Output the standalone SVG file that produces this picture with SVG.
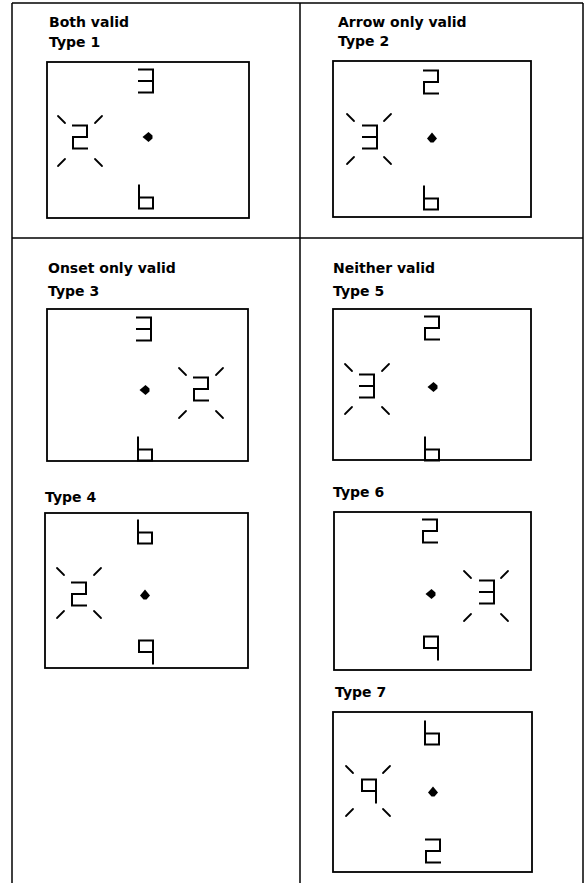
<svg xmlns="http://www.w3.org/2000/svg" xmlns:xlink="http://www.w3.org/1999/xlink" width="585" height="883" viewBox="0 0 585 883">
<style>
.frame{fill:none;stroke:#000;stroke-width:1.5}
.box{fill:none;stroke:#000;stroke-width:1.8}
.dg{fill:none;stroke:#000;stroke-width:2;stroke-linejoin:miter;stroke-linecap:square}
.bl{fill:none;stroke:#000;stroke-width:1.8;stroke-linecap:round}
.lbl{font-family:"DejaVu Sans",sans-serif;font-weight:bold;font-size:14px;fill:#000}
.fx{fill:#000}
</style>
<defs>
<path id="d2" class="dg" d="M-7,-11.5 H7 V0 H-7 V11.5 H7"/>
<path id="d3" class="dg" d="M-7,-11.5 H7 V11.5 H-7 M-7,0 H7"/>
<path id="d6" class="dg" d="M-7,-11.5 V11.5 H7 V0.5 H-7"/>
<path id="d9" class="dg" d="M7,11.5 V-11.5 H-7 V0 H7"/>
<g id="burst">
<line class="bl" x1="-22" y1="-25" x2="-15" y2="-18"/>
<line class="bl" x1="22" y1="-25" x2="15" y2="-18"/>
<line class="bl" x1="-22" y1="25" x2="-15" y2="18"/>
<line class="bl" x1="22" y1="25" x2="15" y2="18"/>
</g>
<path id="fl" class="fx" d="M-5.5,0 L0.5,-5 L4.5,-1.5 L4.5,1.5 L0.5,5 Z"/>
<path id="fu" class="fx" d="M0,-5.5 L5,0.5 L1.5,4.5 L-1.5,4.5 L-5,0.5 Z"/>
</defs>
<g id="frame">
<line class="frame" x1="12" y1="3" x2="583" y2="3"/>
<line class="frame" x1="12" y1="3" x2="12" y2="883"/>
<line class="frame" x1="583" y1="3" x2="583" y2="883"/>
<line class="frame" x1="300" y1="3" x2="300" y2="883"/>
<line class="frame" x1="12" y1="238" x2="583" y2="238"/>
</g>
<g id="labels">
<text class="lbl" x="49" y="27">Both valid</text>
<text class="lbl" x="338" y="27">Arrow only valid</text>
<text class="lbl" x="48" y="273">Onset only valid</text>
<text class="lbl" x="333" y="273">Neither valid</text>
</g>
<g id="type1">
<text class="lbl" x="49" y="47">Type 1</text>
<rect class="box" x="47" y="62" width="202" height="156"/>
<use xlink:href="#d3" x="146" y="81"/>
<use xlink:href="#fl" x="148" y="137"/>
<use xlink:href="#burst" x="80" y="141"/>
<use xlink:href="#d2" x="80" y="137"/>
<use xlink:href="#d6" x="146" y="197"/>
</g>
<g id="type2">
<text class="lbl" x="338" y="46">Type 2</text>
<rect class="box" x="333" y="61" width="198" height="156"/>
<use xlink:href="#d2" x="431" y="82"/>
<use xlink:href="#fu" x="432" y="138"/>
<use xlink:href="#burst" x="369" y="139"/>
<use xlink:href="#d3" x="370" y="137"/>
<use xlink:href="#d6" x="431" y="198"/>
</g>
<g id="type3">
<text class="lbl" x="48" y="296">Type 3</text>
<rect class="box" x="47" y="309" width="201" height="152"/>
<use xlink:href="#d3" x="144" y="329"/>
<use xlink:href="#fl" x="145" y="390"/>
<use xlink:href="#burst" x="201" y="393"/>
<use xlink:href="#d2" x="201" y="389"/>
<use xlink:href="#d6" x="145" y="449"/>
</g>
<g id="type4">
<text class="lbl" x="45" y="502">Type 4</text>
<rect class="box" x="45" y="513" width="203" height="155"/>
<use xlink:href="#d6" x="145" y="532"/>
<use xlink:href="#fu" x="145" y="595"/>
<use xlink:href="#burst" x="79" y="593"/>
<use xlink:href="#d2" x="79" y="594"/>
<use xlink:href="#d9" x="146" y="652"/>
</g>
<g id="type5">
<text class="lbl" x="333" y="296">Type 5</text>
<rect class="box" x="333" y="309" width="198" height="151"/>
<use xlink:href="#d2" x="432" y="328"/>
<use xlink:href="#fl" x="433" y="387"/>
<use xlink:href="#burst" x="367" y="389"/>
<use xlink:href="#d3" x="367" y="386"/>
<use xlink:href="#d6" x="432" y="449"/>
</g>
<g id="type6">
<text class="lbl" x="333" y="497">Type 6</text>
<rect class="box" x="334" y="512" width="197" height="158"/>
<use xlink:href="#d2" x="430" y="531"/>
<use xlink:href="#fl" x="431" y="594"/>
<use xlink:href="#burst" x="486" y="596"/>
<use xlink:href="#d3" x="487" y="592"/>
<use xlink:href="#d9" x="431" y="648"/>
</g>
<g id="type7">
<text class="lbl" x="335" y="697">Type 7</text>
<rect class="box" x="333" y="712" width="199" height="160"/>
<use xlink:href="#d6" x="432" y="733"/>
<use xlink:href="#fu" x="433" y="792"/>
<use xlink:href="#burst" x="368" y="791"/>
<use xlink:href="#d9" x="369" y="791"/>
<use xlink:href="#d2" x="433" y="851"/>
</g>
</svg>
